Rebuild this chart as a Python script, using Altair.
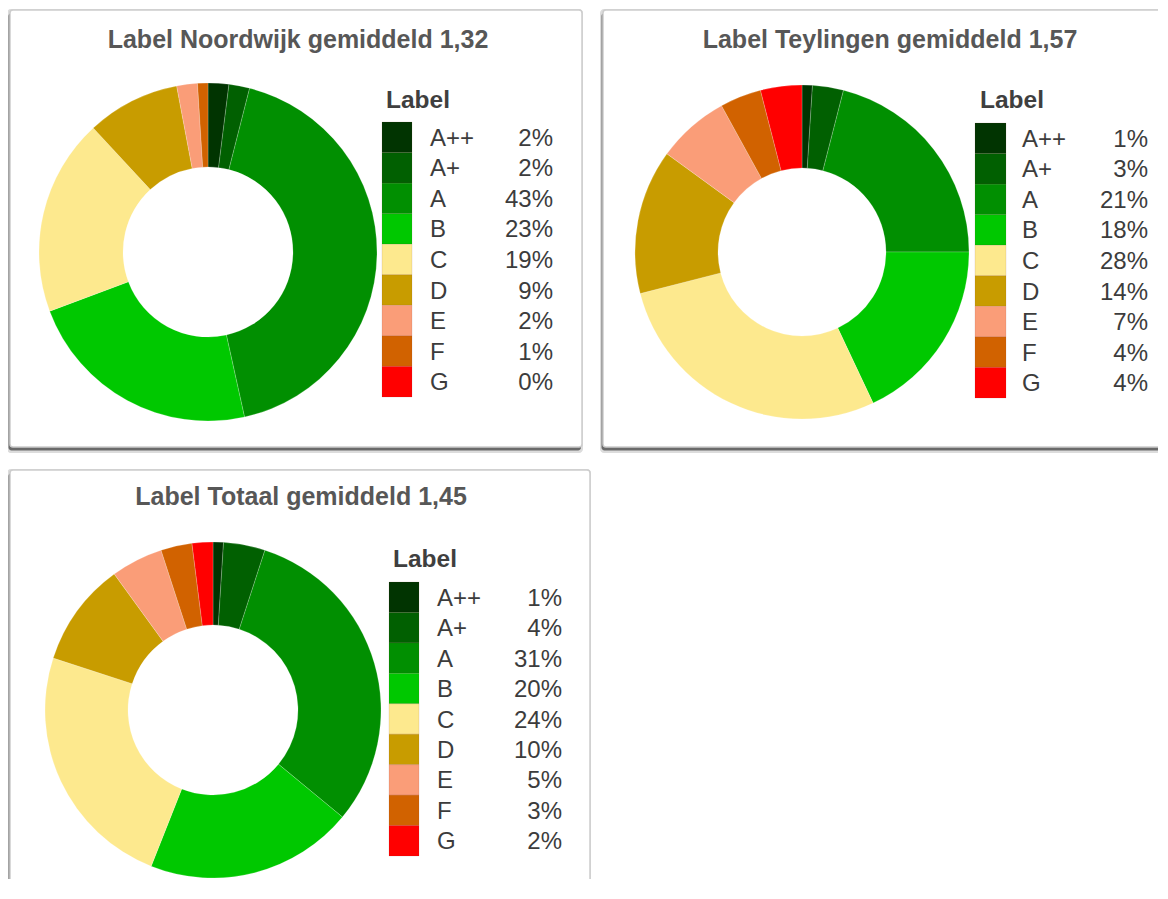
import altair as alt
import pandas as pd

labels = ["A++", "A+", "A", "B", "C", "D", "E", "F", "G"]
colors = ["#013401", "#016001", "#018f01", "#00c800", "#fde98e",
          "#c89c00", "#fa9d78", "#d16200", "#ff0000"]
noordwijk = [2, 2, 43, 23, 19, 9, 2, 1, 0]
teylingen = [1, 3, 21, 18, 28, 14, 7, 4, 4]
totaal = [1, 4, 31, 20, 24, 10, 5, 3, 2]
titles = ["Label Noordwijk gemiddeld 1,32",
          "Label Teylingen gemiddeld 1,57",
          "Label Totaal gemiddeld 1,45"]
legend_title = "Label"

FONT = "Liberation Sans"
color_scale = alt.Scale(domain=labels, range=colors)


def panel(values, title, w, h, frame, title_pos, center, legend):
    df = pd.DataFrame({
        "label": labels,
        "value": values,
        "idx": list(range(len(labels))),
        "pct": [f"{v}%" for v in values],
    })
    one = pd.DataFrame({"k": [0]})
    fx0, fy0, fx1, fy1 = frame
    shadow_soft = alt.Chart(one).mark_rect(color="#dcdcdc", clip=True, cornerRadius=4).encode(
        x=alt.value(fx0 - 3), x2=alt.value(fx1 + 1),
        y=alt.value(fy0 - 1), y2=alt.value(fy1 + 6))
    shadow = alt.Chart(one).mark_rect(color="#6a6a6a", clip=True, cornerRadius=3).encode(
        x=alt.value(fx0 - 1.5), x2=alt.value(fx1 - 1),
        y=alt.value(fy0 + 3), y2=alt.value(fy1 + 3.5))
    box = alt.Chart(one).mark_rect(fill="white", stroke="#cdcdcd", strokeWidth=1.5,
                                   clip=True, cornerRadius=3).encode(
        x=alt.value(fx0), x2=alt.value(fx1),
        y=alt.value(fy0), y2=alt.value(fy1))
    ttl = alt.Chart(one).mark_text(text=title, font=FONT, fontSize=25, fontWeight="bold",
                                   color="#575757", align="center", baseline="middle").encode(
        x=alt.value(title_pos[0]), y=alt.value(title_pos[1]))
    arc = alt.Chart(df).transform_filter("datum.value > 0").mark_arc(
        radius=center[2], innerRadius=center[3], stroke="#ffffff", strokeWidth=0.4,
        strokeOpacity=0.5).encode(
        theta=alt.Theta("value:Q", stack=True),
        order=alt.Order("idx:Q", sort="ascending"),
        color=alt.Color("label:N", scale=color_scale, legend=None),
        x=alt.value(center[0]), y=alt.value(center[1]))
    lx, ly, sx0, sx1, sy0, sy1, tx, px = legend
    yscale = alt.Scale(domain=labels, range=[sy0, sy1], paddingInner=0, paddingOuter=0)
    ltitle = alt.Chart(one).mark_text(text=legend_title, font=FONT, fontSize=24.5, fontWeight="bold",
                                      color="#3f3f3f", align="left", baseline="middle").encode(
        x=alt.value(lx), y=alt.value(ly))
    swatch = alt.Chart(df).mark_rect(stroke="#7a3030", strokeWidth=0.3, strokeOpacity=0.4).encode(
        x=alt.value(sx0), x2=alt.value(sx1),
        y=alt.Y("label:N", scale=yscale, axis=None, sort=labels),
        color=alt.Color("label:N", scale=color_scale, legend=None))
    ltext = alt.Chart(df).mark_text(font=FONT, fontSize=24, color="#3c3c3c", dy=1.5,
                                    align="left", baseline="middle").encode(
        x=alt.value(tx),
        y=alt.Y("label:N", scale=yscale, axis=None, sort=labels),
        text="label:N")
    ptext = alt.Chart(df).mark_text(font=FONT, fontSize=24, color="#3c3c3c", dy=1.5,
                                    align="right", baseline="middle").encode(
        x=alt.value(px),
        y=alt.Y("label:N", scale=yscale, axis=None, sort=labels),
        text="pct:N")
    return alt.layer(shadow_soft, shadow, box, ttl, arc, ltitle, swatch, ltext, ptext).properties(
        width=w, height=h)


p1 = panel(noordwijk, titles[0], 585, 450,
           frame=(2, 2, 574, 439), title_pos=(290, 32),
           center=(200, 244, 169, 85),
           legend=(378, 93, 374, 404, 114, 389, 422, 545))
p2 = panel(teylingen, titles[1], 558, 450,
           frame=(3, 2, 590, 439), title_pos=(290, 32),
           center=(202, 244, 167, 84),
           legend=(380, 93, 375, 406, 115, 390, 422, 548))
p3 = panel(totaal, titles[2], 586, 415,
           frame=(2, 6, 582, 450), title_pos=(293, 33),
           center=(205, 246, 168, 85),
           legend=(385, 96, 381, 411, 118, 392, 429, 554))

chart = alt.concat(p1, p2, p3, columns=2, spacing=6, bounds="flush", align="each").properties(
    padding=0, background="white"
).configure_view(strokeWidth=0)

chart.save("out.html", embed_options={"renderer": "svg", "actions": False})
